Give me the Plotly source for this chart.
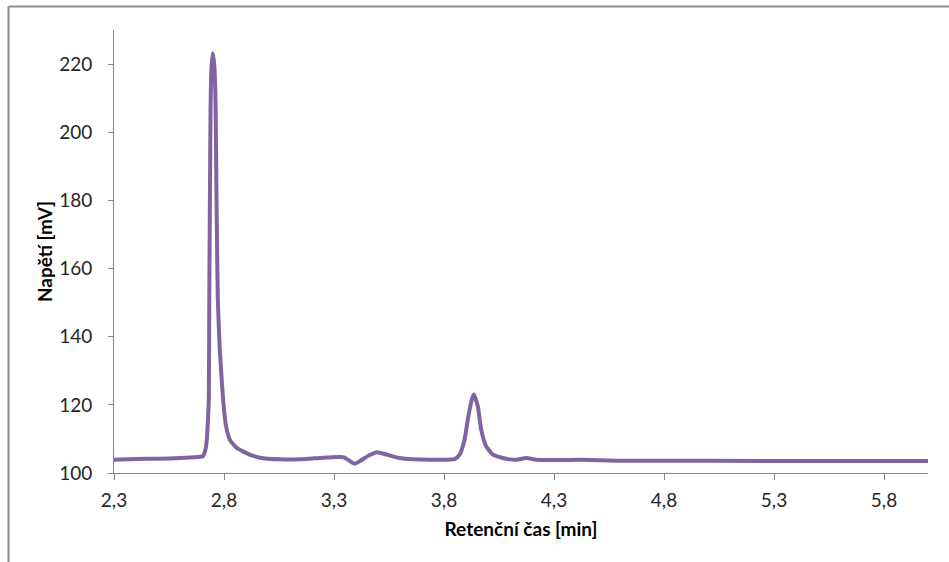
import plotly.graph_objects as go

# Chromatogram trace: retention time [min] and detector voltage [mV]
retention_time = [
    2.300, 2.400, 2.500, 2.600, 2.680, 2.700, 2.704, 2.713, 2.722, 2.727,
    2.731, 2.733, 2.736, 2.739, 2.7425, 2.749, 2.756, 2.762, 2.766, 2.772,
    2.781, 2.796, 2.808, 2.827, 2.857, 2.917, 2.963, 3.053, 3.150, 3.249,
    3.326, 3.345, 3.370, 3.394, 3.420, 3.460, 3.494, 3.539, 3.598, 3.657,
    3.780, 3.848, 3.871, 3.893, 3.908, 3.924, 3.935, 3.954, 3.969, 3.992,
    4.022, 4.067, 4.098, 4.130, 4.175, 4.220, 4.300, 4.430, 4.600, 5.000,
    5.500, 6.000,
]
voltage = [
    103.9, 104.1, 104.2, 104.4, 104.7, 104.85, 104.9, 106.2, 109.7, 115.6,
    121.5, 150.7, 180.0, 207.2, 218.0, 223.2, 219.5, 207.2, 180.0, 150.7,
    136.1, 121.5, 114.2, 109.7, 107.4, 105.4, 104.5, 104.0, 104.0, 104.5,
    104.7, 104.6, 103.6, 102.7, 103.6, 105.2, 106.1, 105.4, 104.4, 104.0,
    103.9, 104.1, 105.4, 109.7, 115.6, 121.0, 123.0, 119.5, 112.7, 107.8,
    105.4, 104.4, 104.0, 103.9, 104.4, 103.9, 103.8, 103.9, 103.6, 103.6,
    103.5, 103.5,
]

x_ticks = [2.3, 2.8, 3.3, 3.8, 4.3, 4.8, 5.3, 5.8]
y_ticks = [100, 120, 140, 160, 180, 200, 220]

axis_grey = "#868686"
family = "Lato, 'Open Sans', sans-serif"
tick_font = dict(family=family, size=19, color="#262626")
title_font = dict(family=family, size=19, color="#000000")

fig = go.Figure()
fig.add_trace(go.Scatter(
    x=retention_time, y=voltage, mode="lines",
    line=dict(color="#8064A2", width=4, shape="spline", smoothing=0.5),
    hoverinfo="skip", showlegend=False,
))

fig.update_layout(
    width=949, height=562,
    margin=dict(l=114, r=21, t=30, b=89),
    paper_bgcolor="white", plot_bgcolor="white",
    separators=", ",
    font=tick_font,
    xaxis=dict(
        range=[2.3, 6.0], tickvals=x_ticks, tickformat=".1f",
        showgrid=False, zeroline=False,
        showline=True, linecolor=axis_grey, linewidth=1,
        ticks="outside", ticklen=6, tickcolor=axis_grey,
        tickfont=tick_font, ticklabelstandoff=4,
        title=dict(text="<b>Retenční čas [min]</b>", standoff=12, font=title_font),
    ),
    yaxis=dict(
        range=[100, 230], tickvals=y_ticks,
        showgrid=False, zeroline=False,
        showline=True, linecolor=axis_grey, linewidth=1,
        ticks="outside", ticklen=5, tickcolor=axis_grey,
        tickfont=tick_font, ticklabelstandoff=12,
        title=dict(text="<b>Napětí [mV]</b>", standoff=1, font=title_font),
    ),
    shapes=[
        # outer chart frame (left and top edges)
        dict(type="line", xref="paper", yref="paper",
             x0=-0.1296, x1=-0.1296, y0=1.053, y1=-0.25,
             line=dict(color="#8a8a8a", width=2)),
        dict(type="line", xref="paper", yref="paper",
             x0=-0.1296, x1=1.1, y0=1.053, y1=1.053,
             line=dict(color="#8a8a8a", width=2)),
    ],
)

fig.write_html("out.html")
